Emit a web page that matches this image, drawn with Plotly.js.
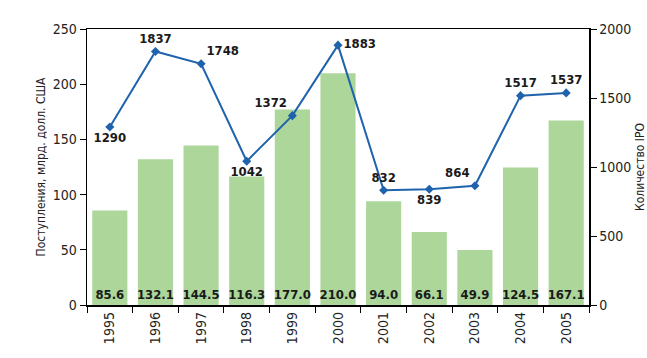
<!DOCTYPE html>
<html><head><meta charset="utf-8">
<script src="https://cdn.plot.ly/plotly-3.0.1.min.js"></script>
<style>html,body{margin:0;padding:0;background:#fff}</style>
</head><body><div id="chart" style="width:647px;height:358px"></div>
<script>
var years = ['1995','1996','1997','1998','1999','2000','2001','2002','2003','2004','2005'];
var proceeds = [85.6,132.1,144.5,116.3,177.0,210.0,94.0,66.1,49.9,124.5,167.1];
var ipoCount = [1290,1837,1748,1042,1372,1883,832,839,864,1517,1537];
var labelPos = ['bottom center','top center','top right','bottom center','top left','middle right','top center','bottom center','top left','top center','top center'];

var F = 'DejaVu Sans Condensed, Liberation Sans Narrow, Arial Narrow, sans-serif';
var bars = {
  type:'bar', x:years, y:proceeds, marker:{color:'#acd69a'},
  text:proceeds.map(function(v){return v.toFixed(1);}), textposition:'inside', insidetextanchor:'start',
  textangle:0, constraintext:'none', textfont:{family:F,size:13,color:'#1a1a1a',weight:'bold'}, cliponaxis:false, hoverinfo:'skip'
};
var line = {
  type:'scatter', mode:'lines+markers+text', x:years, y:ipoCount, yaxis:'y2',
  line:{color:'#1f63ad',width:2}, marker:{color:'#1f63ad',size:7,symbol:'diamond'},
  text:ipoCount.map(String), textposition:labelPos,
  textfont:{family:F,size:13,color:'#1a1a1a',weight:'bold'}, cliponaxis:false
};
var layout = {
  width:647, height:358, margin:{l:87,r:58,t:29,b:53},
  paper_bgcolor:'#fff', plot_bgcolor:'#fff', showlegend:false, bargap:0.23,
  font:{family:F,size:13,color:'#222'},
  xaxis:{type:'category', range:[-0.5,10.5], automargin:false, showline:true, mirror:true, linecolor:'#000', linewidth:1.5,
    ticks:'outside', tickson:'boundaries', ticklen:6, tickcolor:'#000', tickangle:-90,
    tickfont:{family:F,size:14,color:'#222'}, showgrid:false},
  yaxis:{range:[0,250], dtick:50, automargin:false, showline:true, linecolor:'#000', linewidth:1.5, ticks:'outside',
    ticklen:6, tickcolor:'#000', showgrid:false, zeroline:false,
    tickfont:{family:F,size:14,color:'#222'},
    title:{text:'Поступления, млрд. долл. США', font:{family:F,size:12,color:'#222'}, standoff:4}},
  yaxis2:{range:[0,2000], dtick:500, automargin:false, overlaying:'y', side:'right', showline:true, linecolor:'#000', linewidth:1.5,
    ticks:'outside', ticklen:6, tickcolor:'#000', showgrid:false, zeroline:false,
    tickfont:{family:F,size:14,color:'#222'},
    title:{text:'Количество IPO', font:{family:F,size:12,color:'#222'}, standoff:8}}
};
Plotly.newPlot('chart',[bars,line],layout,{displayModeBar:false,staticPlot:true});
</script></body></html>
